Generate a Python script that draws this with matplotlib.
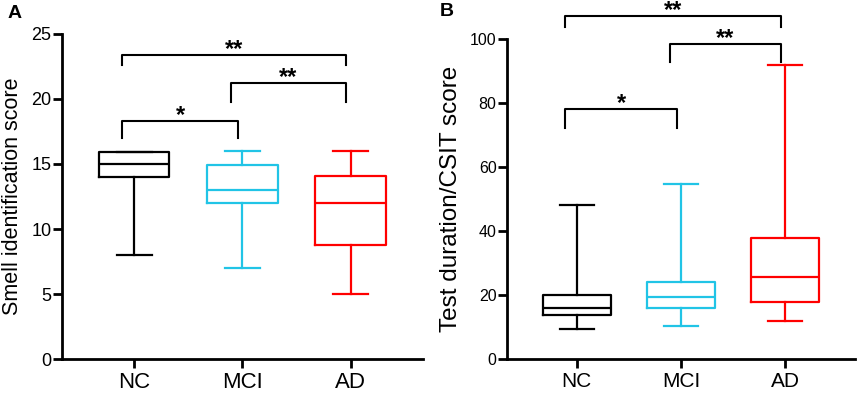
import numpy as np
import matplotlib.pyplot as plt
from matplotlib.transforms import blended_transform_factory

plt.rcParams['font.family'] = ['Liberation Sans', 'DejaVu Sans']

groups = ["NC", "MCI", "AD"]
colors = ["#000000", "#21C4E6", "#FF0000"]

# panel A: smell identification score (min, q1, median, q3, max)
smell_min = [8, 7, 5]
smell_q1 = [14, 12, 8.8]
smell_med = [15, 13, 12]
smell_q3 = [15.9, 14.9, 14.1]
smell_max = [15.9, 16, 16]

# panel B: test duration / CSIT score
dur_min = [9.5, 10.3, 12]
dur_q1 = [13.8, 15.8, 17.9]
dur_med = [16, 19.3, 25.7]
dur_q3 = [19.9, 24.2, 37.8]
dur_max = [48, 54.7, 92]

# significance brackets: (left group, right group, bar height, leg bottom, label)
sig_a = [(0, 1, 18.3, 17.0, "*"), (1, 2, 21.2, 19.8, "**"), (0, 2, 23.4, 22.6, "**")]
sig_b = [(0, 1, 78.0, 72.3, "*"), (1, 2, 98.4, 92.7, "**"), (0, 2, 107.2, 103.9, "**")]


def boxes(ax, lo, q1, med, q3, hi):
    pos = np.arange(len(groups))
    for i in range(len(groups)):
        st = [dict(whislo=lo[i], q1=q1[i], med=med[i], q3=q3[i], whishi=hi[i])]
        style = dict(color=colors[i], linewidth=1.6)
        ax.bxp(st, positions=[pos[i]], widths=0.65, capwidths=0.33,
               showfliers=False, boxprops=style, whiskerprops=style,
               capprops=style, medianprops=style)


def brackets(ax, sig):
    for a, b, top, bot, lab in sig:
        xa = a - 0.11
        xb = b - 0.04
        ax.plot([xa, xa, xb, xb], [bot, top, top, bot], color="black",
                linewidth=1.5, clip_on=False)
        ax.annotate(lab, ((xa + xb) / 2, top), xytext=(0, 4),
                    textcoords="offset points", ha="center", va="center",
                    fontsize=17, fontweight="bold", annotation_clip=False)


def style_axes(ax, ymax, step, ylabel, tick_fs, cat_fs, lab_fs, lab_x):
    ax.set_xlim(-0.67, 2.67)
    ax.set_ylim(0, ymax)
    ax.set_yticks(np.arange(0, ymax + 1, step))
    ax.set_xticks(range(len(groups)))
    ax.set_xticklabels(groups, fontsize=cat_fs)
    for s in ["top", "right"]:
        ax.spines[s].set_visible(False)
    for s in ["left", "bottom"]:
        ax.spines[s].set_linewidth(2)
    ax.tick_params(axis="both", direction="out", length=6.5, width=2)
    ax.tick_params(axis="y", labelsize=tick_fs, pad=1)
    ax.tick_params(axis="x", pad=3)
    ax.set_ylabel(ylabel, fontsize=lab_fs, va="center")
    tr = blended_transform_factory(ax.figure.transFigure, ax.transAxes)
    ax.yaxis.set_label_coords(lab_x / 857, 0.5, transform=tr)


fig = plt.figure(figsize=(8.57, 3.93), dpi=100)
axA = fig.add_axes([0.0723, 0.0865, 0.4212, 0.827])
axB = fig.add_axes([0.5916, 0.0865, 0.406, 0.814])

boxes(axA, smell_min, smell_q1, smell_med, smell_q3, smell_max)
style_axes(axA, 25, 5, "Smell identification score", 13, 16, 15.5, 13)
brackets(axA, sig_a)

boxes(axB, dur_min, dur_q1, dur_med, dur_q3, dur_max)
style_axes(axB, 100, 20, "Test duration/CSIT score", 11.5, 15, 17.5, 451)
brackets(axB, sig_b)

fig.text(15 / 857, 1 - 13 / 393, "A", fontsize=14, fontweight="bold",
         ha="center", va="center")
fig.text(447 / 857, 1 - 11 / 393, "B", fontsize=14, fontweight="bold",
         ha="center", va="center")

fig.savefig("out.png", dpi=100)
